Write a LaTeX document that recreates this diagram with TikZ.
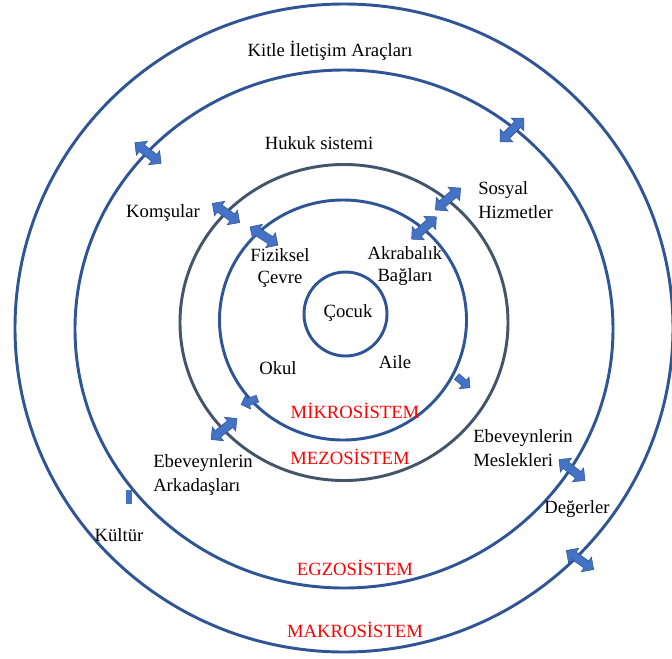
\documentclass[tikz,border=0pt]{standalone}
\usepackage{fontspec}
\setmainfont{Liberation Serif}
\usetikzlibrary{shapes.arrows}
\definecolor{ringblue}{RGB}{47,85,151}
\definecolor{ringslate}{RGB}{68,84,106}
\definecolor{arrowfill}{RGB}{68,114,196}
\definecolor{arrowedge}{RGB}{47,85,151}
\definecolor{labelred}{RGB}{255,0,0}
\begin{document}
\begin{tikzpicture}[x=0.75pt,y=-0.75pt,
  ring/.style={draw=ringblue,line width=2.2pt},
  lbl/.style={font=\fontsize{14}{18}\selectfont,inner sep=0pt},
  lbltight/.style={font=\fontsize{14}{16.5}\selectfont,inner sep=0pt},
  syslbl/.style={lbl,text=labelred},
  link/.style={double arrow,draw=arrowedge,fill=arrowfill,line width=0.4pt,
    minimum height=25pt,inner xsep=0pt,inner ysep=3pt,double arrow head extend=3.5pt},
  stub/.style={single arrow,draw=arrowedge,fill=arrowfill,line width=0.4pt,
    minimum height=13pt,inner xsep=0pt,inner ysep=2.5pt,single arrow head extend=3pt}]
\useasboundingbox (0,0) rectangle (672,658);
\clip (0,0) rectangle (672,658);
\fill[white] (0,0) rectangle (672,658);

% nested system rings
\draw[ring] (344,328) ellipse [x radius=329,y radius=324];
\draw[ring] (344,329) ellipse [x radius=269,y radius=259];
\draw[ring,draw=ringslate] (344,322.5) ellipse [x radius=164,y radius=158];
\draw[ring] (343,320) ellipse [x radius=123.5,y radius=120];
\draw[ring] (345.5,314) ellipse [x radius=41.5,y radius=42];

% two-way links across the rings
\node[link,rotate=-38] (a1) at (148,153) {};
\node[link,rotate=45]  (a2) at (512,130) {};
\node[link,rotate=-35] (a3) at (226,213) {};
\node[link,rotate=-33] (a4) at (264,236) {};
\node[link,rotate=41]  (a5) at (448,199) {};
\node[link,rotate=42]  (a6) at (424,228) {};
\node[link,rotate=39]  (a9) at (224,429) {};
\node[link,rotate=-39] (a10) at (572,470) {};
\node[link,rotate=-35] (a11) at (580,560) {};
\node[stub,rotate=-40] (a7) at (462,381) {};
\node[stub,rotate=-160] (a8) at (251,401) {};
\fill[arrowfill] (126,490) rectangle (132,504);

% labels
\node[lbl] (kitle) at (330,51) {Kitle İletişim Araçları};
\node[lbl] (hukuk) at (319,143) {Hukuk sistemi};
\node[lbl,align=left,anchor=west] (sosyal) at (478,200) {Sosyal\\Hizmetler};
\node[lbl] (komsu) at (163,213) {Komşular};
\node[lbltight,align=center] (fizik) at (280,268) {Fiziksel\\Çevre};
\node[lbltight,align=center] (akraba) at (405,266) {Akrabalık\\Bağları};
\node[lbl] (cocuk) at (348,313) {Çocuk};
\node[lbl] (okul) at (278,368) {Okul};
\node[lbl] (aile) at (395,362) {Aile};
\node[syslbl] (mikro) at (355,411) {MİKROSİSTEM};
\node[syslbl] (mezo) at (350,457) {MEZOSİSTEM};
\node[lbl,align=left,anchor=west] (arkadas) at (153,475) {Ebeveynlerin\\Arkadaşları};
\node[lbl] (kultur) at (119,535) {Kültür};
\node[lbl,align=left,anchor=west] (meslek) at (473,448) {Ebeveynlerin\\Meslekleri};
\node[lbl] (deger) at (577,509) {Değerler};
\node[syslbl] (egzo) at (355,568) {EGZOSİSTEM};
\node[syslbl] (makro) at (355,630) {MAKROSİSTEM};
\end{tikzpicture}
\end{document}
